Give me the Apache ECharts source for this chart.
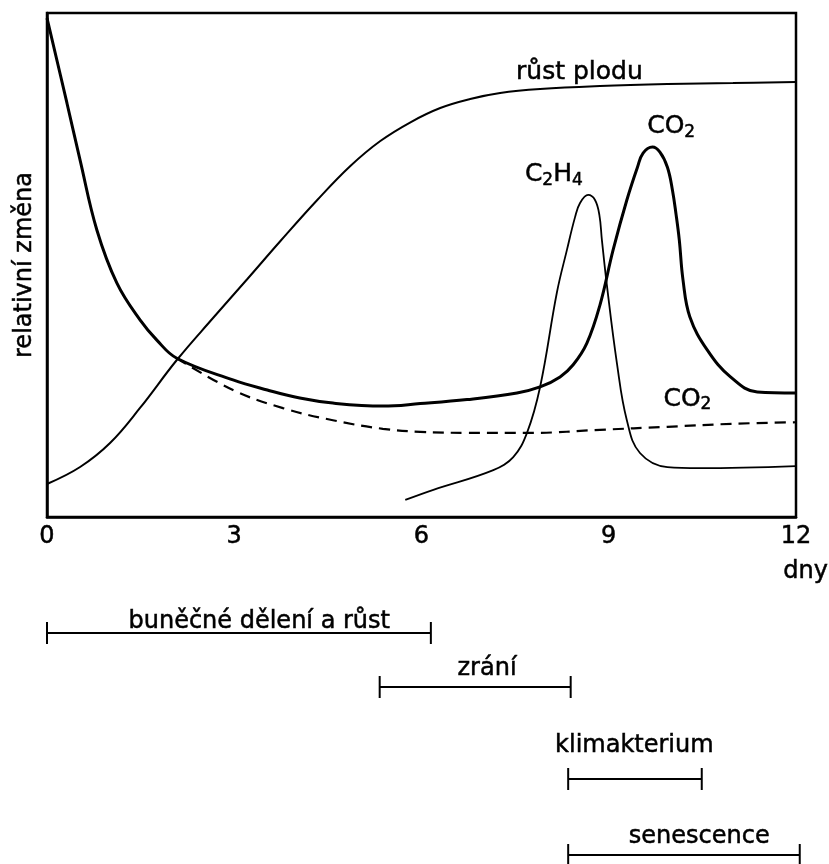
<!DOCTYPE html>
<html>
<head>
<meta charset="utf-8">
<script src="https://cdn.jsdelivr.net/npm/echarts@6/dist/echarts.min.js"></script>
<style>
html,body{margin:0;padding:0;background:#fff;}
#chart{width:829px;height:864px;}
</style>
</head>
<body>
<div id="chart"></div>
<script>
// ---- data (x = days, y = relative change) ----
const xTicks = [0, 3, 6, 9, 12];

const co2Solid = [
  [0, 99], [0.32, 82.1], [0.53, 70.8], [0.80, 56.9], [1.12, 46.4], [1.49, 39.1],
  [1.76, 35.1], [2.08, 31.5], [2.98, 27.2], [3.53, 25.2], [4.05, 23.6], [4.58, 22.6],
  [5.38, 22.0], [5.98, 22.5], [6.73, 23.3], [7.53, 24.6], [7.90, 25.8], [8.22, 27.8],
  [8.43, 30.2], [8.65, 34.5], [8.86, 42.1], [9.07, 53.0], [9.29, 62.9], [9.46, 69.4],
  [9.55, 72.2], [9.70, 73.4], [9.82, 72.4], [9.94, 69.4], [10.02, 64.9], [10.08, 59.9],
  [10.13, 55.0], [10.19, 47.0], [10.30, 39.7], [10.58, 33.1], [10.95, 27.8], [11.38, 24.8],
  [12, 24.6]
];

const co2Dashed = [
  [2.08, 31.5], [2.98, 25.2], [3.78, 21.6], [4.58, 19.2], [5.38, 17.5], [5.98, 16.9],
  [6.73, 16.7], [7.79, 16.7], [8.86, 17.3], [9.94, 17.9], [10.99, 18.5], [12, 18.8]
];

const fruitGrowth = [
  [0, 6.55], [0.53, 9.92], [1.01, 14.68], [1.49, 21.63], [2.08, 31.15], [2.66, 39.48],
  [3.21, 47.22], [3.74, 54.76], [4.33, 62.90], [4.86, 69.64], [5.34, 74.60], [5.83, 78.37],
  [6.30, 81.15], [6.78, 82.94], [7.26, 84.13], [7.90, 84.92], [8.86, 85.52], [9.94, 85.91],
  [10.99, 86.11], [12, 86.31]
];

const ethylene = [
  [5.74, 3.4], [6.19, 5.4], [7.15, 9.3], [7.47, 11.9], [7.69, 16.7], [7.90, 25.8],
  [8.17, 44.6], [8.33, 53.0], [8.46, 59.5], [8.54, 62.3], [8.67, 63.9], [8.78, 62.9],
  [8.85, 59.9], [8.89, 55.0], [8.97, 46.0], [9.13, 30.6], [9.29, 19.2], [9.50, 12.7],
  [9.94, 9.9], [10.46, 9.7], [12, 10.1]
];

// curve labels: text, x (days), y (value)
const curveLabelText = ['{n|růst plodu}', '{n|CO}{s|2}', '{n|C}{s|2}{n|H}{s|4}', '{n|CO}{s|2}'];
const curveLabelX = [8.53, 10.0, 8.12, 10.26];
const curveLabelY = [88.1, 77.4, 68.0, 23.4];

// phases: name, start day, end day, row, label day, label row
const phaseNames = ['buněčné dělení a růst', 'zrání', 'klimakterium', 'senescence'];
const phaseStart = [0, 5.33, 8.35, 8.35];
const phaseEnd = [6.15, 8.39, 10.49, 12.06];
const phaseRow = [0.625, 1.648, 3.39, 4.83];
const phaseLabelX = [3.40, 7.05, 9.41, 10.45];
const phaseLabelRow = [0.41, 1.30, 2.76, 4.48];

const FONT = 'DejaVu Sans';
const TB = 0.5; // slight text emboldening

const chart = echarts.init(document.getElementById('chart'), null, {renderer: 'canvas'});

const labelData = curveLabelText.map((t, i) => ({
  value: [curveLabelX[i], curveLabelY[i]],
  label: {formatter: t}
}));

const phaseData = phaseNames.map((n, i) => ({
  name: n,
  value: [phaseStart[i], phaseEnd[i], phaseRow[i], phaseLabelX[i], phaseLabelRow[i]]
}));

const lineCommon = {smooth: 0.4, showSymbol: false, xAxisIndex: 0, yAxisIndex: 0};

const option = {
  animation: false,
  backgroundColor: '#fff',
  grid: [
    {left: 47, right: 33, top: 13, bottom: 347, show: true, borderColor: '#000', borderWidth: 2.5, backgroundColor: 'transparent'},
    {left: 47, right: 33, top: 600, bottom: 0, show: false}
  ],
  xAxis: [
    {
      type: 'value', gridIndex: 0, min: 0, max: 12, interval: 3,
      axisLine: {show: true, lineStyle: {color: '#000', width: 2.5}},
      axisTick: {show: false},
      splitLine: {show: false},
      axisLabel: {color: '#000', fontFamily: FONT, fontSize: 24, margin: 8,
        textBorderColor: '#000', textBorderWidth: TB,
        formatter: v => xTicks.indexOf(v) >= 0 ? String(v) : ''}
    },
    {type: 'value', gridIndex: 1, min: 0, max: 12, show: false}
  ],
  yAxis: [
    {
      type: 'value', gridIndex: 0, min: 0, max: 100,
      axisLine: {show: true, lineStyle: {color: '#000', width: 2.5}},
      axisTick: {show: false}, axisLabel: {show: false}, splitLine: {show: false},
      name: 'relativní změna', nameLocation: 'middle', nameGap: 10, nameRotate: 90,
      nameTextStyle: {color: '#000', fontFamily: FONT, fontSize: 24, textBorderColor: '#000', textBorderWidth: TB}
    },
    {type: 'value', gridIndex: 1, min: 0, max: 5, inverse: true, show: false}
  ],
  series: [
    Object.assign({type: 'line', name: 'CO2', data: co2Solid, z: 3,
      lineStyle: {color: '#000', width: 3}}, lineCommon),
    Object.assign({type: 'line', name: 'CO2 (bez klimakteria)', data: co2Dashed,
      lineStyle: {color: '#000', width: 2.2, type: [11, 7]}}, lineCommon),
    Object.assign({type: 'line', name: 'růst plodu', data: fruitGrowth,
      lineStyle: {color: '#000', width: 2}}, lineCommon),
    Object.assign({type: 'line', name: 'C2H4', data: ethylene,
      lineStyle: {color: '#000', width: 1.8}}, lineCommon),
    {type: 'scatter', name: 'popisky', data: labelData, symbolSize: 0, xAxisIndex: 0, yAxisIndex: 0,
      itemStyle: {opacity: 1, color: '#000'},
      label: {show: true, position: 'inside', color: '#000', opacity: 1,
        rich: {
          n: {fontFamily: FONT, fontSize: 25, lineHeight: 29, color: '#000', verticalAlign: 'middle',
            textBorderColor: '#000', textBorderWidth: TB},
          s: {fontFamily: FONT, fontSize: 17, lineHeight: 17, color: '#000', verticalAlign: 'bottom',
            textBorderColor: '#000', textBorderWidth: TB}
        }}},
    {type: 'custom', name: 'fáze', xAxisIndex: 1, yAxisIndex: 1, data: phaseData,
      renderItem: function (params, api) {
        const s = api.coord([api.value(0), api.value(2)]);
        const e = api.coord([api.value(1), api.value(2)]);
        const t = api.coord([api.value(3), api.value(4)]);
        const h = 11;
        const st = {stroke: '#000', lineWidth: 2};
        return {type: 'group', children: [
          {type: 'line', shape: {x1: s[0], y1: s[1], x2: e[0], y2: e[1]}, style: st},
          {type: 'line', shape: {x1: s[0], y1: s[1] - h, x2: s[0], y2: s[1] + h}, style: st},
          {type: 'line', shape: {x1: e[0], y1: e[1] - h, x2: e[0], y2: e[1] + h}, style: st},
          {type: 'text', style: {text: phaseNames[params.dataIndex], x: t[0], y: t[1],
            align: 'center', verticalAlign: 'middle', fill: '#000',
            stroke: '#000', lineWidth: TB,
            font: '24px "DejaVu Sans"'}}
        ]};
      }}
  ],
  graphic: [
    {type: 'text', left: 783, top: 560, style: {text: 'dny', fill: '#000', stroke: '#000', lineWidth: TB,
      font: '24px "DejaVu Sans"'}}
  ]
};

chart.setOption(option);
</script>
</body>
</html>
